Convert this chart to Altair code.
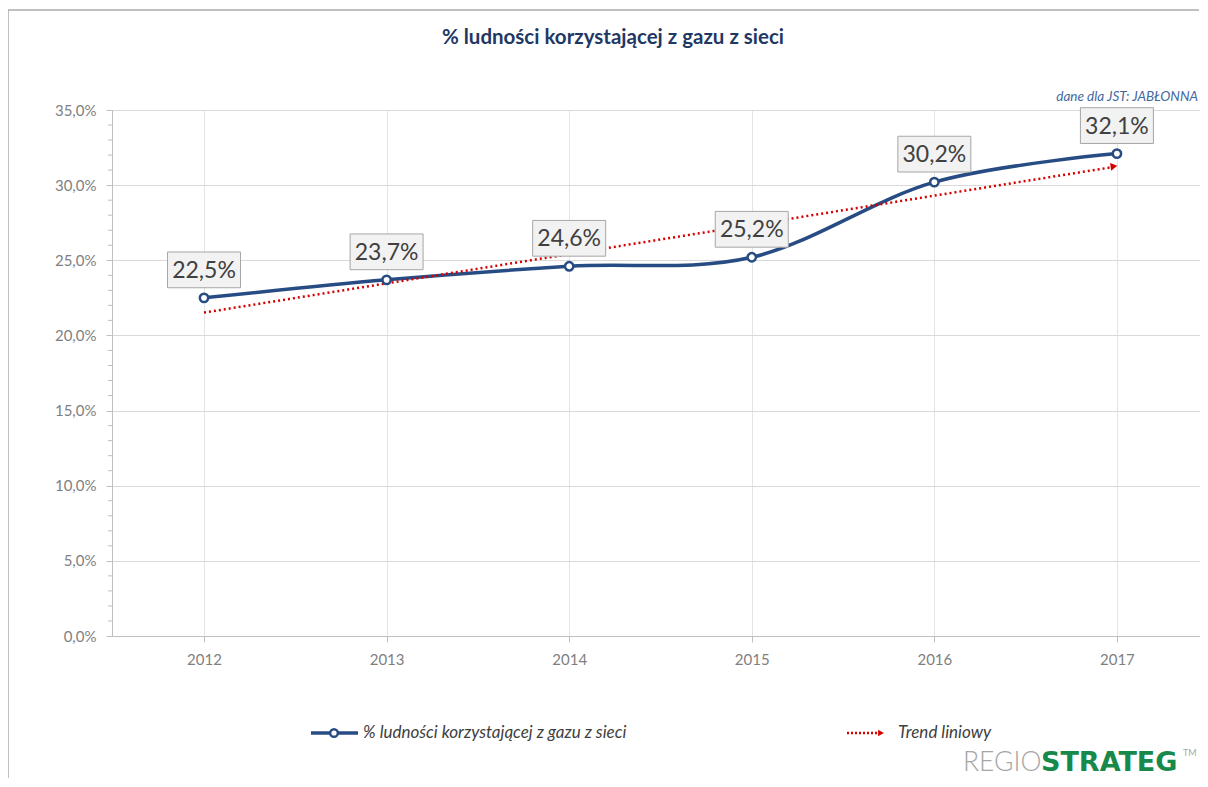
import altair as alt
import pandas as pd

# ---- data ----
years = [2012, 2013, 2014, 2015, 2016, 2017]
values = [22.5, 23.7, 24.6, 25.2, 30.2, 32.1]
y_major = [0, 5, 10, 15, 20, 25, 30, 35]
y_minor = [1, 2, 3, 4, 6, 7, 8, 9, 11, 12, 13, 14, 16, 17, 18, 19,
           21, 22, 23, 24, 26, 27, 28, 29, 31, 32, 33, 34]

TITLE = "% ludności korzystającej z gazu z sieci"
SUBTITLE = "dane dla JST:  JABŁONNA"
LEG_SERIES = "% ludności korzystającej z gazu z sieci"
LEG_TREND = "Trend liniowy"

df = pd.DataFrame({"year": years, "value": values})
minor_df = pd.DataFrame({"value": y_minor})
one = pd.DataFrame({"k": [0]})

BLUE = "#274C84"
RED = "#D40000"
FONT = "Lato"
AXC = "#BFBFBF"
FRAME = "#ABABAB"

xscale = alt.Scale(domain=[2011.496, 2017.455], nice=False, zero=False)
yscale = alt.Scale(domain=[0, 35], nice=False)

X = alt.X("year:Q", scale=xscale, axis=alt.Axis(
    values=years, format="d", title=None, grid=True, gridColor="#E4E4E4",
    tickSize=6, tickColor=AXC, domainColor=AXC, labelOverlap=False,
    labelColor="#7F7F7F", labelFontSize=15, labelFont=FONT, labelPadding=10))
Y = alt.Y("value:Q", scale=yscale, axis=alt.Axis(
    values=y_major, title=None, grid=True, gridColor="#D9D9D9", labelOverlap=False,
    labelExpr="replace(format(datum.value, '.1f'), '.', ',') + '%'",
    tickSize=6, tickColor=AXC, domainColor=AXC,
    labelColor="#7F7F7F", labelFontSize=15, labelFont=FONT, labelPadding=10))

base = alt.Chart(df)

frame_top = alt.Chart(one).mark_rule(color=FRAME, strokeWidth=1.5).encode(
    x=alt.value(-104), x2=alt.value(1087), y=alt.value(-100))
frame_left = alt.Chart(one).mark_rule(color=FRAME, strokeWidth=1.5).encode(
    x=alt.value(-104), y=alt.value(-100), y2=alt.value(700))

line = base.mark_line(interpolate="cardinal", color=BLUE, strokeWidth=3.5).encode(x=X, y=Y)

minor = alt.Chart(minor_df).mark_rule(color=AXC, strokeWidth=1).encode(
    y="value:Q", x=alt.value(-4), x2=alt.value(0))

trend = base.transform_regression("year", "value").mark_line(
    color=RED, strokeDash=[2, 3], strokeWidth=2.5).encode(x="year:Q", y="value:Q")

arrow = base.transform_regression("year", "value").transform_filter(
    "datum.year > 2016.5").mark_point(
    shape="triangle-right", filled=True, size=60, color=RED, opacity=1, angle=351, xOffset=-3).encode(
    x="year:Q", y="value:Q")

points = base.mark_point(shape="circle", filled=True, fill="white", stroke=BLUE,
                         strokeWidth=2.5, size=70, opacity=1).encode(x="year:Q", y="value:Q")

boxes = base.mark_point(shape="M-1,-0.49L1,-0.49L1,0.49L-1,0.49Z", size=73 * 73,
                        filled=True, fill="#F2F2F2", stroke="#A6A6A6", strokeWidth=1,
                        opacity=1, yOffset=-28).encode(x="year:Q", y="value:Q")

labels = base.transform_calculate(
    lab="replace(format(datum.value, '.1f'), '.', ',') + '%'").mark_text(
    font=FONT, fontSize=23, color="#404040", baseline="middle", yOffset=-27).encode(
    x="year:Q", y="value:Q", text="lab:N")

title = alt.Chart(one).mark_text(font=FONT, fontSize=20.5, fontWeight="bold", color="#1F3864",
                                 align="center", baseline="middle").encode(
    x=alt.value(501), y=alt.value(-72), text=alt.value(TITLE))

subtitle = alt.Chart(one).mark_text(font=FONT, fontSize=13.5, fontStyle="italic", color="#44689E",
                                    align="right", baseline="middle").encode(
    x=alt.value(1086), y=alt.value(-13), text=alt.value(SUBTITLE))

leg_line = alt.Chart(one).mark_rule(color=BLUE, strokeWidth=3.5).encode(
    x=alt.value(199), x2=alt.value(246), y=alt.value(623))
leg_pt = alt.Chart(one).mark_point(shape="circle", filled=True, fill="white", stroke=BLUE,
                                   strokeWidth=2.5, size=60, opacity=1).encode(
    x=alt.value(222), y=alt.value(623))
leg_txt1 = alt.Chart(one).mark_text(font=FONT, fontSize=17, fontStyle="italic", color="#404040",
                                    align="left", baseline="middle").encode(
    x=alt.value(251), y=alt.value(623), text=alt.value(LEG_SERIES))
leg_trend = alt.Chart(one).mark_rule(color=RED, strokeWidth=2.5, strokeDash=[2, 2]).encode(
    x=alt.value(735), x2=alt.value(767), y=alt.value(623))
leg_arrow = alt.Chart(one).mark_point(shape="triangle-right", filled=True, size=45, color=RED,
                                      opacity=1).encode(x=alt.value(769), y=alt.value(623))
leg_txt2 = alt.Chart(one).mark_text(font=FONT, fontSize=17, fontStyle="italic", color="#404040",
                                    align="left", baseline="middle").encode(
    x=alt.value(786), y=alt.value(623), text=alt.value(LEG_TREND))

logo1 = alt.Chart(one).mark_text(font=FONT, fontSize=26.5, fontWeight=300, color="#A6A6A6",
                                 align="left", baseline="alphabetic").encode(
    x=alt.value(851), y=alt.value(661), text=alt.value("REGIO"))
logo2 = alt.Chart(one).mark_text(font="DejaVu Sans", fontSize=27, fontWeight="bold", color="#17894A",
                                 align="left", baseline="alphabetic").encode(
    x=alt.value(929), y=alt.value(661), text=alt.value("STRATEG"))
logo3 = alt.Chart(one).mark_text(font=FONT, fontSize=9, color="#A6A6A6",
                                 align="left", baseline="alphabetic").encode(
    x=alt.value(1071), y=alt.value(646), text=alt.value("TM"))

chart = alt.layer(
    frame_top, frame_left, line, minor, trend, arrow, points, boxes, labels, title, subtitle,
    leg_line, leg_pt, leg_txt1, leg_trend, leg_arrow, leg_txt2, logo1, logo2, logo3
).properties(
    width=1088, height=526,
    padding={"left": 104, "top": 102, "right": 0, "bottom": 142},
    autosize=alt.AutoSizeParams(type="none"),
).configure_view(stroke=None).configure(background="white")

chart.save("out.html", embed_options={"renderer": "svg", "actions": False})
